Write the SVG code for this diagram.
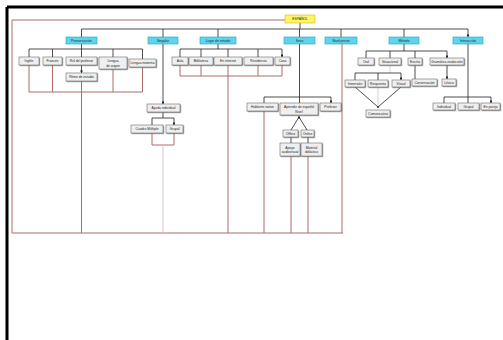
<svg xmlns="http://www.w3.org/2000/svg" width="503" height="340" viewBox="0 0 503 340">
<style>
text{font-family:"Liberation Sans",Arial,sans-serif;font-size:3.3px;fill:#222;text-anchor:middle;dominant-baseline:central}
.c rect{fill:#5ad6ee;stroke:#2a9fb5;stroke-width:0.6}
.n rect{fill:#efefef;stroke:#555;stroke-width:0.5;filter:url(#sh)}
.y rect{fill:#fff566;stroke:#e0b020;stroke-width:0.6}
.k{stroke:#222;stroke-width:0.8;fill:none}
.ka{stroke:#222;stroke-width:0.8;fill:none;marker-end:url(#ar)}
.g{stroke:#c8c8c8;stroke-width:0.8;fill:none}
.r{stroke:#b06a6a;stroke-width:1;fill:none}
.p{stroke:#e2c4c4;stroke-width:1;fill:none}
</style>
<defs>
<marker id="ar" viewBox="0 0 6 6" refX="5.5" refY="3" markerWidth="3.5" markerHeight="3.5" orient="auto"><path d="M0,0L6,3L0,6z" fill="#222"/></marker>
<filter id="sh" x="-10%" y="-10%" width="130%" height="150%"><feDropShadow dx="0.8" dy="0.8" stdDeviation="0.3" flood-color="#777" flood-opacity="0.8"/></filter>
</defs>
<rect width="503" height="340" fill="#fff"/>
<path d="M7,7H503M7,7V340" stroke="#000" stroke-width="3" fill="none"/>
<g id="connectors">
<!-- red frame lines -->
<path class="r" d="M285,20H12V233H343"/>
<path class="r" d="M29,65V92H142.5V67M52.5,65V92M113,69V92"/>
<path class="r" d="M81.5,81V233"/>
<path class="r" d="M152,133V145H174V133"/>
<path class="p" d="M163,145V233"/>
<path class="r" d="M180,65V76H282V65M201,65V76M258,65V76"/>
<path class="r" d="M228,65V233"/>
<path class="r" d="M264,111V233M291,156V233M308,156V233"/>
<path class="r" d="M342,44V233"/>
<!-- black tree lines -->
<path class="k" d="M300,23V29M81.5,29H468"/>
<path class="ka" d="M81.5,29V37M163,29V37M218,29V37M299.5,29V37M341,29V37M404,29V37M468,29V37"/>
<path class="k" d="M81.5,44V49M29,49H142.5"/>
<path class="ka" d="M29,49V57M52.5,49V57M81.5,49V57M113,49V57M142.5,49V59M81.5,65V73"/>
<path class="ka" d="M163,44V104"/>
<path class="k" d="M163,112V118M152,118H174"/>
<path class="ka" d="M152,118V125M174,118V125"/>
<path class="k" d="M218,44V49M180,49H282"/>
<path class="ka" d="M180,49V57M201,49V57M228,49V57M258,49V57M282,49V57"/>
<path class="k" d="M299.5,44V97M264,97H331"/>
<path class="ka" d="M264,97V103M299.5,97V103M331,97V103"/>
<path class="k" d="M291,130L299,117M307,130L299,117"/>
<path class="ka" d="M299,118V116"/>
<path class="k" d="M291,137V143M308,137V143"/>
<path class="k" d="M404,44V51M366,51H447"/>
<path class="ka" d="M366,51V58M390,51V58M415,51V58M447,51V58"/>
<path class="g" d="M390,65V73"/>
<path class="k" d="M355,73H401"/>
<path class="ka" d="M355,73V80M378,73V80M401,73V80"/>
<path class="k" d="M355,87L378,107M401,87L378,107"/>
<path class="g" d="M378,87V107"/>
<circle cx="378" cy="107" r="0.9" fill="#222"/>
<path class="ka" d="M415,65V79M447,65V79"/>
<path class="k" d="M468,44V97M444,97H491"/>
<path class="ka" d="M444,97V103M468,97V103M491,97V103"/>
</g>
<g id="root" class="y"><rect x="285" y="15" width="30" height="8"/><text x="300" y="19">ESPAÑOL</text></g>
<g id="c1" class="c"><rect x="66" y="37" width="31" height="7"/><text x="81.5" y="40.5">Pronunciación</text></g>
<g id="c2" class="c"><rect x="148" y="37" width="30" height="7"/><text x="163" y="40.5">Singular</text></g>
<g id="c3" class="c"><rect x="200" y="37" width="36" height="7"/><text x="218" y="40.5">Lugar de estudio</text></g>
<g id="c4" class="c"><rect x="284" y="37" width="31" height="7"/><text x="299.5" y="40.5">Sexo</text></g>
<g id="c5" class="c"><rect x="325" y="37" width="32" height="7"/><text x="341" y="40.5">Nivel previo</text></g>
<g id="c6" class="c"><rect x="389" y="37" width="30" height="7"/><text x="404" y="40.5">Método</text></g>
<g id="c7" class="c"><rect x="453" y="37" width="30" height="7"/><text x="468" y="40.5">Interacción</text></g>
<g id="n1" class="n"><rect x="19" y="57" width="20" height="8"/><text x="29" y="61">Inglés</text></g>
<g id="n2" class="n"><rect x="43" y="57" width="19" height="8"/><text x="52.5" y="61">Francés</text></g>
<g id="n3" class="n"><rect x="66" y="57" width="31" height="8"/><text x="81.5" y="61">Rol del profesor</text></g>
<g id="n4" class="n"><rect x="99" y="57" width="28" height="12"/><text x="113" y="61">Lengua</text><text x="113" y="65.5">de origen</text></g>
<g id="n5" class="n"><rect x="129" y="59" width="27" height="8"/><text x="142.5" y="63">Lengua materna</text></g>
<g id="n6" class="n"><rect x="66" y="73" width="31" height="8"/><text x="81.5" y="77">Ritmo de estudio</text></g>
<g id="n7" class="n"><rect x="147" y="104" width="33" height="8"/><text x="163.5" y="108">Ayuda individual</text></g>
<g id="n8" class="n"><rect x="131" y="125" width="32" height="8"/><text x="147" y="129">Cuadro Múltiple</text></g>
<g id="n9" class="n"><rect x="166" y="125" width="17" height="8"/><text x="174.5" y="129">Grupal</text></g>
<g id="n10" class="n"><rect x="172" y="57" width="16" height="8"/><text x="180" y="61">Aula</text></g>
<g id="n11" class="n"><rect x="189" y="57" width="24" height="8"/><text x="201" y="61">Biblioteca</text></g>
<g id="n12" class="n"><rect x="214" y="57" width="28" height="8"/><text x="228" y="61">En internet</text></g>
<g id="n13" class="n"><rect x="244" y="57" width="29" height="8"/><text x="258.5" y="61">Residencia</text></g>
<g id="n14" class="n"><rect x="275" y="57" width="15" height="8"/><text x="282.5" y="61">Casa</text></g>
<g id="n15" class="n"><rect x="247" y="103" width="31" height="8"/><text x="262.5" y="107">Hablante nativo</text></g>
<g id="n16" class="n"><rect x="280" y="103" width="38" height="12"/><text x="299" y="107">Aprendiz de español</text><text x="299" y="111.5">Nivel</text></g>
<g id="n17" class="n"><rect x="320" y="103" width="21" height="8"/><text x="330.5" y="107">Profesor</text></g>
<g id="n18" class="n"><rect x="283" y="130" width="15" height="7"/><text x="290.5" y="133.5">Offline</text></g>
<g id="n19" class="n"><rect x="301" y="130" width="13" height="7"/><text x="307.5" y="133.5">Online</text></g>
<g id="n20" class="n"><rect x="280" y="143" width="20" height="13"/><text x="290" y="147.5">Apoyo</text><text x="290" y="152">audiovisual</text></g>
<g id="n21" class="n"><rect x="301" y="143" width="21" height="13"/><text x="311.5" y="147.5">Material</text><text x="311.5" y="152">didáctico</text></g>
<g id="n22" class="n"><rect x="358" y="58" width="16" height="7"/><text x="366" y="61.5">Oral</text></g>
<g id="n23" class="n"><rect x="379" y="58" width="22" height="7"/><text x="390" y="61.5">Situacional</text></g>
<g id="n24" class="n"><rect x="408" y="58" width="14" height="7"/><text x="415" y="61.5">Escrito</text></g>
<g id="n25" class="n"><rect x="430" y="58" width="34" height="7"/><text x="447" y="61.5">Gramática-traducción</text></g>
<g id="n26" class="n"><rect x="345" y="80" width="20" height="7"/><text x="355" y="83.5">Inmersión</text></g>
<g id="n27" class="n"><rect x="368" y="80" width="20" height="7"/><text x="378" y="83.5">Respuesta</text></g>
<g id="n28" class="n"><rect x="392" y="80" width="18" height="7"/><text x="401" y="83.5">Visual</text></g>
<g id="n29" class="n"><rect x="366" y="110" width="24" height="7"/><text x="378" y="113.5">Comunicativo</text></g>
<g id="n30" class="n"><rect x="412" y="79" width="25" height="7"/><text x="424.5" y="82.5">Conversación</text></g>
<g id="n31" class="n"><rect x="442" y="79" width="14" height="7"/><text x="449" y="82.5">Léxico</text></g>
<g id="n32" class="n"><rect x="433" y="103" width="22" height="7"/><text x="444" y="106.5">Individual</text></g>
<g id="n33" class="n"><rect x="458" y="103" width="21" height="7"/><text x="468.5" y="106.5">Grupal</text></g>
<g id="n34" class="n"><rect x="481" y="103" width="19" height="7"/><text x="490.5" y="106.5">En pareja</text></g>
</svg>
